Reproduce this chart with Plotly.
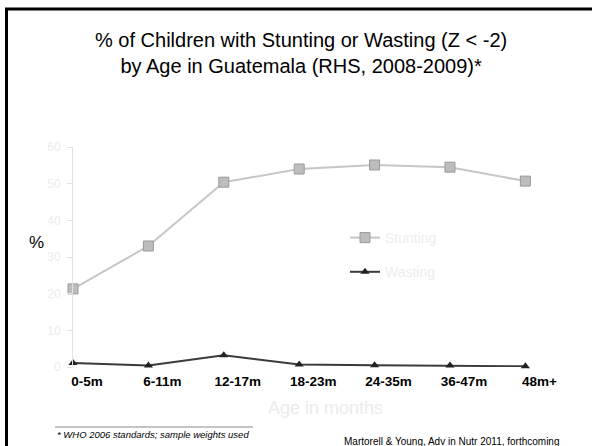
import plotly.graph_objects as go

# Age groups and prevalence (%) of stunting / wasting, Z < -2
age_groups = ["0-5m", "6-11m", "12-17m", "18-23m", "24-35m", "36-47m", "48m+"]
stunting = [21.3, 33.0, 50.4, 54.0, 55.1, 54.5, 50.7]
wasting = [1.1, 0.4, 3.2, 0.7, 0.5, 0.4, 0.2]
y_ticks = [0, 10, 20, 30, 40, 50, 60]

W, H = 592, 446
L, R, T, B = 73, 44, 147, 79
PW, PH = W - L - R, H - T - B
FONT = "Arial, Liberation Sans, sans-serif"


def px_x(px):
    return (px - L) / PW


def px_y(py):
    return (H - B - py) / PH


xs = list(range(len(age_groups)))

fig = go.Figure()
fig.add_trace(go.Scatter(
    x=xs, y=stunting, name="Stunting", mode="lines+markers",
    line=dict(color="#c6c6c6", width=2),
    marker=dict(symbol="square", size=10, color="#bdbdbd",
                line=dict(color="#9a9a9a", width=1)),
    cliponaxis=False, legendgroup="s",
))
fig.add_trace(go.Scatter(
    x=xs, y=wasting, name="Wasting", mode="lines+markers",
    line=dict(color="#3a3a3a", width=2),
    marker=dict(symbol="triangle-up", size=8, color="#222222"),
    cliponaxis=False, legendgroup="w",
))

shapes = [
    # slide frame
    dict(type="line", xref="paper", yref="paper", x0=px_x(5), x1=px_x(600),
         y0=px_y(9), y1=px_y(9), line=dict(color="black", width=3)),
    dict(type="line", xref="paper", yref="paper", x0=px_x(6.5), x1=px_x(6.5),
         y0=px_y(8), y1=px_y(450), line=dict(color="black", width=3)),
    # footnote separator
    dict(type="line", xref="paper", yref="paper", x0=px_x(55), x1=px_x(253),
         y0=px_y(427), y1=px_y(427), line=dict(color="#8a8a8a", width=1)),
]

annotations = [
    dict(text="% of Children with Stunting or Wasting (Z < -2)<br>by Age in Guatemala (RHS, 2008-2009)*",
         xref="paper", yref="paper", x=px_x(301), y=px_y(53), xanchor="center", yanchor="middle",
         showarrow=False, font=dict(family=FONT, size=20, color="black")),
    dict(text="%", xref="paper", yref="paper", x=px_x(36), y=px_y(242),
         xanchor="center", yanchor="middle", showarrow=False,
         font=dict(family=FONT, size=17, color="black")),
    dict(text="Age in months", xref="paper", yref="paper", x=px_x(325), y=px_y(408),
         xanchor="center", yanchor="middle", showarrow=False,
         font=dict(family=FONT, size=18, color="#ececec")),
    dict(text="<i>* WHO 2006 standards; sample weights used</i>", xref="paper", yref="paper",
         x=px_x(55), y=px_y(434), xanchor="left", yanchor="middle", showarrow=False,
         font=dict(family=FONT, size=9.5, color="black")),
    dict(text="Martorell & Young, Adv in Nutr 2011, forthcoming", xref="paper", yref="paper",
         x=px_x(342), y=px_y(441), xanchor="left", yanchor="middle", showarrow=False,
         font=dict(family=FONT, size=10, color="black")),
]

fig.update_layout(
    width=W, height=H,
    margin=dict(l=L, r=R, t=T, b=B),
    paper_bgcolor="white", plot_bgcolor="white",
    font=dict(family=FONT),
    showlegend=True,
    legend=dict(x=px_x(345), y=px_y(222), xanchor="left", yanchor="top",
                bgcolor="rgba(0,0,0,0)", itemwidth=30, tracegroupgap=13,
                traceorder="grouped",
                font=dict(family=FONT, size=14, color="#ededed")),
    xaxis=dict(range=[0, 6.3], tickmode="array", tickvals=xs, ticktext=age_groups,
               showline=False, showgrid=False, zeroline=False, ticks="",
               ticklabelshift=14, ticklabelstandoff=4,
               tickfont=dict(family=FONT, size=13.5, color="black", weight="bold")),
    yaxis=dict(range=[0, 60], tickmode="array", tickvals=y_ticks,
               showline=True, linecolor="#e2e2e2", linewidth=1,
               showgrid=False, zeroline=False, ticks="outside", ticklen=5,
               tickcolor="#e2e2e2", ticklabelstandoff=4,
               tickfont=dict(family=FONT, size=12, color="#ececec")),
    shapes=shapes,
    annotations=annotations,
)

fig.write_html("out.html")
